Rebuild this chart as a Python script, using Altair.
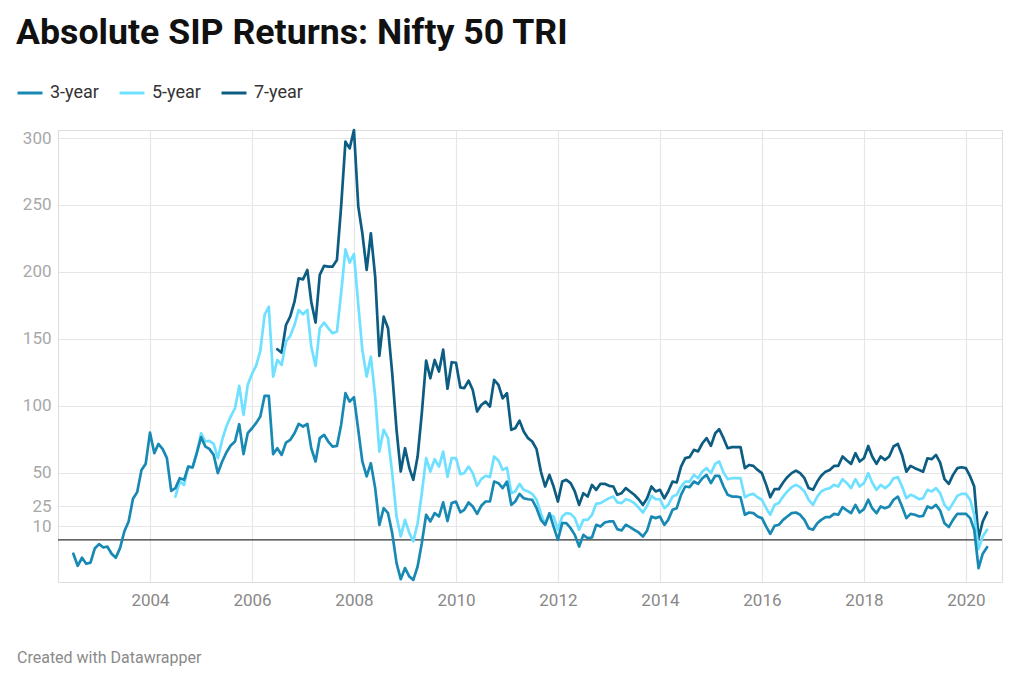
import altair as alt
import pandas as pd

# Monthly observations, first month July 2002
START = "2002-07-01"
N_MONTHS = 216

three_year = [
    -10.4, -19.4, -13.4, -17.9, -17, -6.5, -3.2, -5.7, -5, -10.4,
    -13.4, -6, 6.2, 13.7, 30.6, 35.6, 52.2, 56.7, 80, 64.7,
    71.6, 67.7, 61, 36.6, 38.6, 46, 44.8, 54.7, 54, 64.7,
    76.6, 69.6, 67.9, 63.4, 49.8, 58.5, 65.2, 70.4, 73.4, 86.3,
    64, 79.6, 83.3, 87.5, 92, 107.5, 107.5, 64, 68.4, 63.4,
    72.6, 74.6, 79.6, 86.6, 84.6, 86.6, 68.4, 58.5, 75.9, 78.4,
    73.4, 69.6, 70.1, 85.8, 109.5, 103.2, 106.5, 82, 58.5, 47.3,
    57.2, 38.6, 11.2, 23.6, 19.9, 5, -17.4, -29.4, -21.1, -27.4,
    -29.9, -19.9, -2.5, 18.7, 13.7, 19.9, 17.4, 28, 14, 27.5,
    28.5, 20.5, 22.4, 27.9, 24.9, 19.4, 25.4, 28.6, 28.6, 43.5,
    42.3, 38.6, 43.5, 26.1, 28.6, 34.3, 31, 30.3, 29.9, 23.6,
    14.9, 11.2, 19.9, 9.9, 0, 12.4, 12.4, 8.7, 3.7, -5,
    3.7, 1.2, 1.7, 11.2, 9.9, 12.9, 13.7, 13.7, 8, 7,
    11.2, 9.5, 7.5, 5.5, 2.5, 7, 17.4, 16.2, 17.4, 11.2,
    14.9, 22.4, 23.6, 33.6, 39.8, 39.3, 43.5, 41.8, 46, 48.5,
    42.3, 47.8, 47.8, 39.8, 33.6, 32.3, 32.3, 31.8, 18.7, 20.4,
    19.9, 17.4, 16.2, 9.9, 4.5, 10.4, 11.2, 14.9, 17.4, 19.9,
    20.4, 18.7, 14.9, 8.7, 7.5, 12.4, 14.9, 16.9, 16.9, 19.4,
    18.7, 24.4, 21.9, 19.9, 26.1, 20.4, 22.9, 29.9, 23.6, 19.9,
    24.9, 23.6, 24.9, 29.9, 32.3, 24.9, 16.2, 19.4, 18.7, 17.4,
    17.9, 24.9, 23.6, 26.1, 21.9, 12.4, 9.5, 14.9, 19.4, 19.4,
    19.4, 16.2, 7.5, -21.1, -10.4, -5.5,
]

# starts July 2004
five_year = [
    32.3, 43.5, 41, 54.7, 54, 64.7,
    79.6, 73.4, 73.9, 71.6, 61, 74.6, 84.6, 92, 98.3, 114.9,
    93.3, 115.7, 123.9, 130.6, 141, 168, 174, 121.9, 134.3, 130.6,
    148, 152.2, 160.4, 171.6, 168.4, 171.6, 144.3, 129.9, 158, 162.2,
    158, 154.2, 155.5, 184.1, 216.9, 207, 213.4, 175.4, 141.8, 121.9,
    136.8, 106.9, 65.9, 82.1, 75.9, 49.8, 17.4, 2.5, 14.9, 5,
    -1.2, 12.4, 34.8, 61, 51, 60.2, 54.7, 65.9, 47, 61,
    61, 49, 49.8, 54.7, 49.8, 40.3, 45.3, 47.8, 46.8, 62.2,
    59.2, 52.2, 53.9, 34.8, 36.1, 41.8, 37.3, 36.1, 34.3, 29.9,
    19.9, 11.2, 18.7, 17.4, 7.5, 17.4, 19.9, 19.4, 16.2, 7.5,
    14.9, 14.9, 18.7, 26.9, 27.4, 29.3, 31.1, 32.3, 28, 27.4,
    30.3, 29.3, 27.4, 24.1, 20.4, 25.4, 32.8, 30.3, 30.3, 23.6,
    26.1, 32.3, 33.6, 39.8, 43.5, 43.5, 48.5, 46, 51, 53.5,
    49.8, 56.7, 58.5, 50.3, 45.3, 46, 46, 46, 31.8, 33.6,
    34.3, 31.8, 29.9, 23.6, 18.7, 26.1, 27.4, 32.3, 36.1, 39.3,
    41, 39.3, 36.1, 29.9, 26.1, 32.3, 36.1, 37.8, 38.6, 41,
    39.8, 45.3, 42.3, 38.6, 45.3, 39.8, 42.3, 49.8, 42.8, 37.3,
    41, 38.6, 41, 46, 46.8, 39.8, 31.1, 33.6, 32.3, 30.3,
    31.1, 37.3, 36.1, 38.6, 34.8, 26.1, 22.4, 27.4, 32.8, 34.3,
    34.3, 29.9, 18.7, -7, 2.5, 7.5,
]

# starts July 2006
seven_year = [
    142.3, 139.8,
    160.4, 166.6, 177.8, 195.3, 194.5, 201.5, 177.8, 162.2, 197.8, 204.5,
    204, 204, 209, 248.8, 297.3, 292.3, 306, 248.8, 228.9, 201.5,
    228.9, 196.5, 137.3, 166.6, 158, 124.4, 82.1, 51, 68.4, 53.5,
    44.8, 62.2, 94.5, 133.8, 120.6, 134.3, 125.6, 142, 112.8, 132.6,
    132.2, 113.8, 113.2, 118.9, 111.9, 95.8, 100.7, 103.2, 99.5, 119.4,
    115.7, 105.7, 109.5, 82.1, 83.3, 89, 80.8, 75.9, 73.4, 67.7,
    51, 39.8, 48.5, 39.8, 28.6, 43.5, 44.8, 42.3, 36.1, 26.1,
    34.8, 32.3, 41, 37.3, 41.8, 41.8, 40.3, 39.8, 33.6, 34.8,
    38.6, 36.1, 33.6, 30.3, 26.1, 31, 39.8, 36.1, 37.3, 31,
    36.1, 43.5, 42.8, 54.7, 61, 61.7, 67.2, 66, 72.1, 75.9,
    70.1, 79.6, 82.6, 75.9, 68.4, 69.2, 69.2, 69.2, 53.5, 55.9,
    55.2, 52.2, 49.8, 41, 31.8, 37.8, 37.8, 42.8, 46.8, 49.8,
    51.7, 49.8, 46, 38.6, 37.3, 43.5, 47.8, 50.9, 52.2, 55.2,
    55.2, 62.2, 59.2, 56.7, 64.7, 58.5, 60.9, 70.1, 62.2, 56.7,
    62.2, 59.7, 62.2, 69.7, 71.6, 63.4, 50.9, 55.2, 53.5, 52.2,
    50.9, 60.9, 60.2, 63.4, 57.7, 45.3, 41.8, 48.5, 53.5, 54.2,
    53.5, 47.3, 39.8, 1.2, 13.7, 20.4,
]

series_names = ["3-year", "5-year", "7-year"]
series_colors = ["#1889b3", "#6fe0ff", "#0d5c82"]
y_ticks = [10, 25, 50, 100, 150, 200, 250, 300]
x_tick_years = list(range(2004, 2021, 2))

months = pd.date_range(START, periods=N_MONTHS, freq="MS").strftime("%Y-%m-%d").tolist()

rows = []
for name, vals in [("7-year", seven_year), ("5-year", five_year), ("3-year", three_year)]:
    off = N_MONTHS - len(vals)
    for d, v in zip(months[off:], vals):
        rows.append({"date": d, "value": v, "series": name})
df = pd.DataFrame(rows)

FONT = "Roboto"

x_enc = alt.X(
    "date:T",
    scale=alt.Scale(
        type="utc",
        domain=[
            alt.DateTime(year=2002, month=3, date=13, utc=True),
            alt.DateTime(year=2020, month=9, date=16, utc=True),
        ],
    ),
    axis=alt.Axis(
        values=[alt.DateTime(year=y, month=1, date=1, utc=True) for y in x_tick_years],
        format="%Y",
        grid=True,
        gridColor="#e6e6e6",
        gridWidth=1.2,
        domain=False,
        ticks=False,
        labelColor="#888888",
        labelFontSize=17,
        labelFont=FONT,
        labelPadding=10,
        title=None,
    ),
)

y_enc = alt.Y(
    "value:Q",
    scale=alt.Scale(domain=[-31.5, 306], nice=False, zero=False),
    axis=alt.Axis(
        values=y_ticks,
        grid=True,
        gridColor="#e6e6e6",
        gridWidth=1.2,
        domain=False,
        ticks=False,
        labelColor="#a8a8a8",
        labelFontSize=17,
        labelFont=FONT,
        labelPadding=7,
        title=None,
    ),
)

lines = alt.Chart(df).mark_line(strokeWidth=2.7, strokeJoin="round", strokeCap="round").encode(
    x=x_enc,
    y=y_enc,
    color=alt.Color(
        "series:N",
        scale=alt.Scale(domain=series_names, range=series_colors),
        legend=alt.Legend(
            orient="none",
            legendX=-42,
            legendY=-51,
            direction="horizontal",
            title=None,
            symbolType="stroke",
            symbolSize=625,
            symbolStrokeWidth=3,
            labelFontSize=18,
            labelFont=FONT,
            labelColor="#333333",
            labelOffset=6,
            columnPadding=14,
        ),
    ),
)

zero_rule = alt.Chart(pd.DataFrame({"v": [0]})).mark_rule(color="#333333", strokeWidth=1.3).encode(
    y=alt.Y("v:Q")
)

footer = alt.Chart(pd.DataFrame({"t": ["Created with Datawrapper"]})).mark_text(
    align="left", baseline="middle", fontSize=16, font=FONT, color="#8a8a8a"
).encode(text="t:N", x=alt.value(-41), y=alt.value(528))

chart = (
    alt.layer(zero_rule, lines, footer)
    .properties(
        width=944,
        height=452,
        padding={"left": 50, "top": 122, "right": 10, "bottom": 90},
        autosize=alt.AutoSizeParams(type="none"),
        title=alt.Title(
            "Absolute SIP Returns: Nifty 50 TRI",
            anchor="start",
            frame="group",
            dx=-42,
            offset=27,
            fontSize=35.7,
            fontWeight="bold",
            font=FONT,
            color="#111111",
        ),
    )
    .configure_view(stroke=None)
    .configure(background="white")
)

chart.save("out.html", embed_options={"renderer": "svg", "actions": False})
